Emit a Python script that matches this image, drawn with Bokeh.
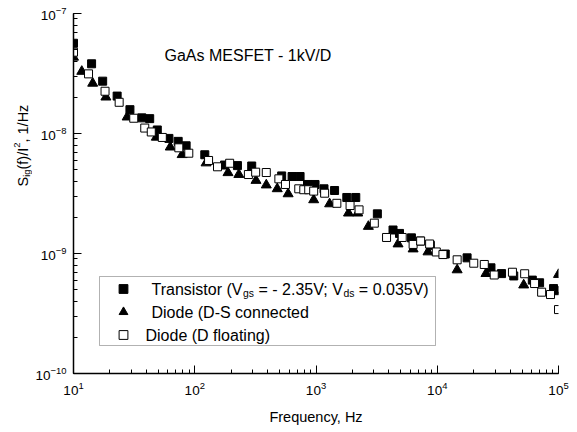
import math
from bokeh.plotting import figure
from bokeh.layouts import row
from bokeh.models import Label, BoxAnnotation, Legend, LegendItem
from bokeh.core.properties import value
from bokeh.embed import file_html
from bokeh.resources import INLINE

# ---------------- data ----------------
transistor_f = [10, 14.1, 17.4, 22.9, 29.2, 36.6, 42.5, 49.1, 61.2, 73, 84.9, 121, 176, 225, 295,
                521, 635, 739, 851, 982, 1164, 1423, 1795, 2128, 3206, 4318, 4884, 6124, 7261,
                8770, 11640, 17620, 27730, 33900, 42760, 60810, 69820, 91000, 100000]
transistor_s = [5.65e-8, 3.81e-8, 2.73e-8, 2.05e-8, 1.58e-8, 1.35e-8, 1.33e-8, 1.07e-8, 9.1e-9,
                8.6e-9, 7.9e-9, 6.65e-9, 5.46e-9, 5.4e-9, 5.36e-9, 4.43e-9, 4.38e-9, 4.38e-9,
                3.76e-9, 3.76e-9, 3.46e-9, 3.35e-9, 2.93e-9, 2.93e-9, 2.14e-9, 1.57e-9, 1.47e-9,
                1.35e-9, 1.27e-9, 1.17e-9, 9.9e-10, 9.2e-10, 7.6e-10, 6.8e-10, 6.5e-10, 6.0e-10,
                5.7e-10, 5.1e-10, 4.9e-10]

diode_ds_f = [10, 11.7, 14.4, 18.5, 27.7, 48.2, 62.8, 78.7, 124, 188, 231, 320, 389, 479, 589,
              957, 1295, 1854, 2208, 2703, 4750, 6324, 8387, 14590, 25230, 51640, 91450, 100000]
diode_ds_s = [4.32e-8, 3.29e-8, 2.62e-8, 2.01e-8, 1.37e-8, 9.3e-9, 7.7e-9, 6.66e-9, 5.68e-9,
              4.71e-9, 4.55e-9, 4.06e-9, 3.72e-9, 3.46e-9, 3.14e-9, 2.8e-9, 2.59e-9, 2.17e-9,
              2.17e-9, 1.68e-9, 1.2e-9, 1.09e-9, 1.03e-9, 7.3e-10, 6.8e-10, 5.46e-10, 4.92e-10,
              6.68e-10]

diode_fl_f = [10, 13.3, 18.2, 23.8, 31.4, 38.7, 43.8, 54, 73.9, 89.3, 130, 154, 194, 277, 318,
              389, 494, 560, 721, 793, 871, 957, 1178, 1486, 1910, 2265, 3027, 3819, 5140, 6324,
              7295, 8650, 9818, 11140, 14590, 20000, 24430, 29510, 41700, 52600, 63500, 72600,
              85900, 100000]
diode_fl_s = [4.76e-8, 3.14e-8, 2.25e-8, 1.82e-8, 1.34e-8, 1.11e-8, 1.03e-8, 9.27e-9, 7.6e-9,
              6.85e-9, 5.96e-9, 5.28e-9, 5.65e-9, 4.55e-9, 4.76e-9, 4.73e-9, 4.19e-9, 3.76e-9,
              3.46e-9, 3.4e-9, 3.4e-9, 3.31e-9, 3.18e-9, 2.62e-9, 2.51e-9, 2.31e-9, 1.79e-9,
              1.36e-9, 1.36e-9, 1.19e-9, 1.27e-9, 1.2e-9, 1.03e-9, 9.8e-10, 8.86e-10, 8.3e-10,
              8.1e-10, 6.62e-10, 6.98e-10, 6.78e-10, 5.62e-10, 4.76e-10, 4.55e-10, 3.41e-10]

x_range = (10, 1e5)
y_range = (1e-10, 1e-7)

title_text = "GaAs MESFET - 1kV/D"
x_label = "Frequency, Hz"
y_label_parts = [("S", "n"), ("ig", "sub"), ("(f)/I", "n"), ("2", "sup"), (", 1/Hz", "n")]
legend_rows = [
    [("Transistor (V", "n"), ("gs", "sub"), (" = - 2.35V; V", "n"), ("ds", "sub"), (" = 0.035V)", "n")],
    [("Diode (D-S connected", "n")],
    [("Diode (D floating)", "n")],
]

FONT = "Liberation Sans"

# Arial / Liberation Sans advance widths (per 1000 em)
W = {' ': 278, '(': 333, ')': 333, ',': 278, '-': 333, '.': 278, '/': 278, ';': 278, '=': 584,
     'A': 667, 'D': 722, 'E': 667, 'F': 611, 'G': 778, 'H': 722, 'I': 278, 'M': 833, 'S': 667,
     'T': 611, 'V': 667, 'a': 556, 'c': 500, 'd': 556, 'e': 556, 'f': 278, 'g': 556, 'i': 222,
     'k': 500, 'l': 222, 'n': 556, 'o': 556, 'q': 556, 'r': 333, 's': 500, 't': 278, 'u': 556,
     'y': 500, 'z': 500, 'h': 556, 'p': 556}


def tw(s, size):
    return sum(W.get(c, 556) for c in s) * size / 1000.0


# narrow strip on the left that carries the rotated y-axis title
LAB_W = 32
lab = figure(width=LAB_W, height=432, output_backend="svg", toolbar_location=None,
             x_axis_location=None, y_axis_location=None, min_border=0)
lab.outline_line_color = None
lab.grid.visible = False
lab.background_fill_color = "white"
lab.border_fill_color = "white"

p = figure(width=577 - LAB_W, height=432, x_axis_type="log", y_axis_type="log",
           x_range=x_range, y_range=y_range,
           output_backend="svg", toolbar_location=None,
           min_border_left=70 - LAB_W, min_border_right=19, min_border_top=13, min_border_bottom=59)
p.outline_line_color = None
p.grid.visible = False
p.background_fill_color = "white"
p.border_fill_color = "white"

for ax in (p.xaxis[0], p.yaxis[0]):
    ax.axis_line_color = "black"
    ax.axis_line_width = 1.5
    ax.major_tick_in = 8
    ax.major_tick_out = 0
    ax.minor_tick_in = 4
    ax.minor_tick_out = 0
    ax.major_tick_line_color = "black"
    ax.minor_tick_line_color = "black"
    ax.major_tick_line_width = 1
    ax.minor_tick_line_width = 1
    ax.major_label_text_font = FONT
    ax.major_label_text_font_size = "13.5px"
    ax.major_label_text_color = "black"

p.yaxis[0].major_label_standoff = 7
p.xaxis[0].major_label_standoff = 8
p.xaxis[0].axis_label = x_label
p.xaxis[0].axis_label_text_font = FONT
p.xaxis[0].axis_label_text_font_size = "14.5px"
p.xaxis[0].axis_label_text_font_style = "normal"
p.xaxis[0].axis_label_text_color = "black"
p.xaxis[0].axis_label_standoff = 11

r1 = p.scatter(transistor_f, transistor_s, marker="square", size=8,
               fill_color="black", line_color="black", line_width=1)
r2 = p.scatter(diode_ds_f, diode_ds_s, marker="triangle", size=10,
               fill_color="black", line_color="black", line_width=1)
r3 = p.scatter(diode_fl_f, diode_fl_s, marker="square", size=8,
               fill_color="white", line_color="black", line_width=1)

# legend frame
box = BoxAnnotation(left=26, right=362, top=97, bottom=28,
                    left_units="screen", right_units="screen",
                    top_units="screen", bottom_units="screen",
                    fill_color="white", fill_alpha=1.0, line_color="black", line_width=1)
p.add_layout(box)

legend = Legend(items=[LegendItem(label=value(""), renderers=[r1]),
                       LegendItem(label=value(""), renderers=[r2]),
                       LegendItem(label=value(""), renderers=[r3])],
                location=(39, 27), orientation="vertical",
                glyph_width=22, glyph_height=23, label_height=23, label_width=0,
                spacing=0, padding=0, margin=0, label_standoff=0,
                border_line_color=None, background_fill_alpha=0)
p.add_layout(legend)


def rich(fig, parts, x0, y0, size, vertical=False):
    pos = 0.0
    for text, kind in parts:
        if kind == "n":
            fs, off = size, 0.0
        elif kind == "sub":
            fs, off = size * 0.65, -size * 0.28
        else:
            fs, off = size * 0.65, size * 0.4
        lead = len(text) - len(text.lstrip(" "))
        core = text.strip(" ")
        start = pos + tw(" " * lead, fs)
        if vertical:
            x, y, ang = x0 - off, y0 + start, math.pi / 2
        else:
            x, y, ang = x0 + start, y0 + off, 0.0
        fig.add_layout(Label(x=x, y=y, x_units="screen", y_units="screen", text=core,
                             angle=ang, text_font=FONT, text_font_size=f"{fs:.1f}px",
                             text_color="black", text_align="left", text_baseline="middle"))
        pos += tw(text, fs)


row_y = [84.5, 61.5, 38.5]
row_x = [78, 78, 72]
for parts, rx, ry in zip(legend_rows, row_x, row_y):
    rich(p, parts, rx, ry, 16)

# title and y label
rich(p, [(title_text, "n")], 91, 318, 16)
rich(lab, y_label_parts, 22, 187, 14.5, vertical=True)

layout = row(lab, p)
open("out.html", "w").write(file_html(layout, INLINE))
